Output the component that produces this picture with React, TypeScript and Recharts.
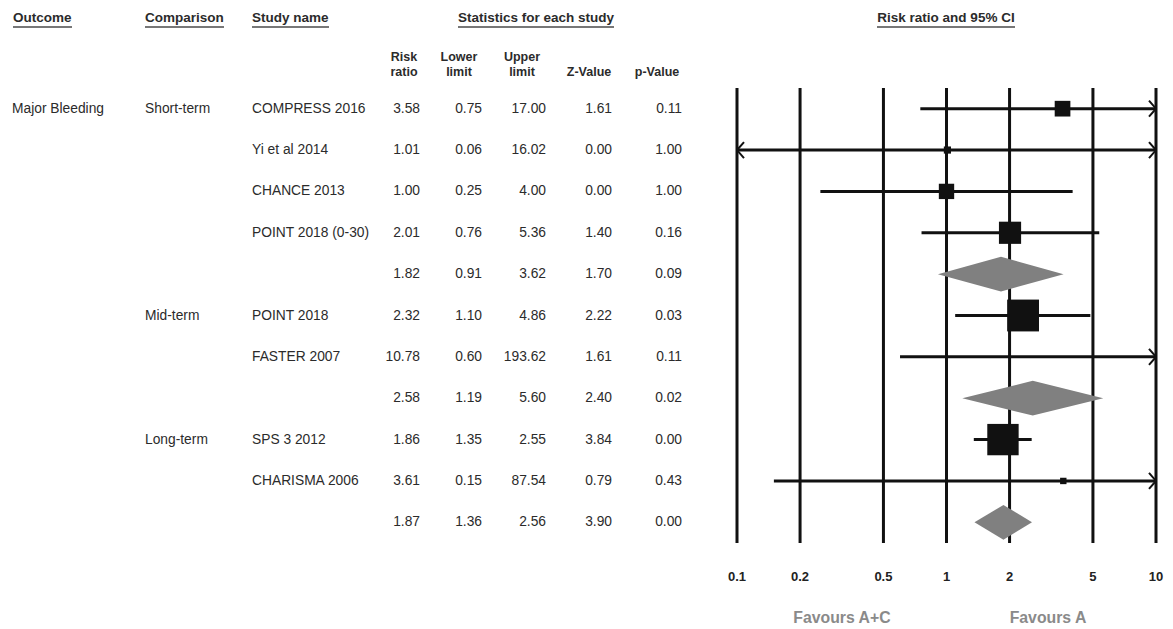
import React from "react";
import { ComposedChart, Scatter, Area, XAxis, YAxis, CartesianGrid } from "recharts";

const outcomes = ["Major Bleeding", "", "", "", "", "", "", "", "", "", ""];
const comparisons = ["Short-term", "", "", "", "", "Mid-term", "", "", "Long-term", "", ""];
const studies = [
  "COMPRESS 2016",
  "Yi et al 2014",
  "CHANCE 2013",
  "POINT 2018 (0-30)",
  "",
  "POINT 2018",
  "FASTER 2007",
  "",
  "SPS 3 2012",
  "CHARISMA 2006",
  "",
];
const riskRatio = [3.58, 1.01, 1.0, 2.01, 1.82, 2.32, 10.78, 2.58, 1.86, 3.61, 1.87];
const lowerLimit = [0.75, 0.06, 0.25, 0.76, 0.91, 1.1, 0.6, 1.19, 1.35, 0.15, 1.36];
const upperLimit = [17.0, 16.02, 4.0, 5.36, 3.62, 4.86, 193.62, 5.6, 2.55, 87.54, 2.56];
const zValue = [1.61, 0.0, 0.0, 1.4, 1.7, 2.22, 1.61, 2.4, 3.84, 0.79, 3.9];
const pValue = [0.11, 1.0, 1.0, 0.16, 0.09, 0.03, 0.11, 0.02, 0.0, 0.43, 0.0];
const isSummary = [false, false, false, false, true, false, false, true, false, false, true];
// relative weight (%) of each study inside its subgroup
const weights = [24, 5, 23, 48, 0, 99, 1, 0, 96, 4, 0];
const ticks = [0.1, 0.2, 0.5, 1, 2, 5, 10];

const W = 1173;
const H = 629;
const PLOT_TOP = 88;
const PLOT_BOTTOM = 543;
const PLOT_LEFT = 737;
const PLOT_RIGHT = 1156;
const ROW_H = (PLOT_BOTTOM - PLOT_TOP) / studies.length;
const X_MIN = ticks[0];
const X_MAX = ticks[ticks.length - 1];
const DIAMOND_HALF = 0.42;
const MAX_BOX = 32;
const FONT = '"Liberation Sans", Arial, sans-serif';
const TEXT = "#2b2b2b";

const rowY = (i: number) => PLOT_TOP + (i + 0.5) * ROW_H;
const fmt = (v: number) => v.toFixed(2);

// CI segments, clipped to the axis range, with arrow flags
const ciSeries = riskRatio
  .map((_, i) => i)
  .filter((i) => !isSummary[i])
  .map((i) => [
    { x: Math.max(lowerLimit[i], X_MIN), y: i, arrow: lowerLimit[i] < X_MIN ? "left" : "" },
    { x: Math.min(upperLimit[i], X_MAX), y: i, arrow: upperLimit[i] > X_MAX ? "right" : "" },
  ]);

const boxData = riskRatio
  .map((rr, i) => ({ x: rr, y: i, w: weights[i] }))
  .filter((d, i) => !isSummary[i] && d.x >= X_MIN && d.x <= X_MAX);

const diamonds = riskRatio
  .map((_, i) => i)
  .filter((i) => isSummary[i])
  .map((i) => [
    { x: lowerLimit[i], band: [i, i] },
    { x: riskRatio[i], band: [i - DIAMOND_HALF, i + DIAMOND_HALF] },
    { x: upperLimit[i], band: [i, i] },
  ]);

const BoxShape = (props: any) => {
  const { cx, cy, payload } = props;
  const s = Math.max(MAX_BOX * Math.sqrt(payload.w / 100), 3);
  return <rect x={cx - s / 2} y={cy - s / 2} width={s} height={s} fill="#111" />;
};

const EndShape = (props: any) => {
  const { cx, cy, payload } = props;
  if (payload.arrow === "right")
    return (
      <path d={`M${cx - 7},${cy - 8} L${cx},${cy} L${cx - 7},${cy + 8}`} stroke="#111" strokeWidth={2} fill="none" />
    );
  if (payload.arrow === "left")
    return (
      <path d={`M${cx + 7},${cy - 8} L${cx},${cy} L${cx + 7},${cy + 8}`} stroke="#111" strokeWidth={2} fill="none" />
    );
  return <g />;
};

const Cell = ({
  x,
  y,
  text,
  align = "left",
  bold = false,
  size = 13.8,
  underline = false,
  color = TEXT,
}: {
  x: number;
  y: number;
  text: string;
  align?: "left" | "right" | "center";
  bold?: boolean;
  size?: number;
  underline?: boolean;
  color?: string;
}) => {
  const boxW = 240;
  const left = align === "left" ? x : align === "right" ? x - boxW : x - boxW / 2;
  return (
    <div
      style={{
        position: "absolute",
        left,
        top: y - 10,
        width: boxW,
        height: 20,
        lineHeight: "20px",
        textAlign: align,
        fontFamily: FONT,
        fontSize: size,
        fontWeight: bold ? "bold" : "normal",
        color,
        whiteSpace: "nowrap",
      }}
    >
      <span
        style={
          underline
            ? { borderBottom: "2px solid #777", paddingBottom: 1 }
            : undefined
        }
      >
        {text}
      </span>
    </div>
  );
};

const COLS = { rr: 420, lo: 482, hi: 546, z: 612, p: 682 };

export default function App() {
  return (
    <div style={{ position: "absolute", left: 0, top: 0, width: W, height: H, background: "#fff" }}>
      <ComposedChart
        width={W}
        height={H}
        margin={{ top: PLOT_TOP, right: W - PLOT_RIGHT, bottom: 0, left: PLOT_LEFT }}
      >
        <CartesianGrid vertical horizontal={false} stroke="#111" strokeWidth={3} />
        <XAxis
          type="number"
          dataKey="x"
          scale="log"
          domain={[X_MIN, X_MAX]}
          ticks={ticks}
          allowDataOverflow
          axisLine={false}
          tickLine={false}
          height={H - PLOT_BOTTOM}
          tickMargin={23}
          tick={{ fontSize: 13, fontWeight: "bold", fill: "#222", fontFamily: FONT }}
          tickFormatter={(v) => String(v)}
        />
        <YAxis type="number" dataKey="y" domain={[-0.5, studies.length - 0.5]} reversed hide />
        {ciSeries.map((d, k) => (
          <Scatter
            key={`ci${k}`}
            data={d}
            line={{ stroke: "#111", strokeWidth: 3 }}
            lineType="joint"
            stroke="#111"
            shape={EndShape}
            isAnimationActive={false}
          />
        ))}
        {diamonds.map((d, k) => (
          <Area
            key={`dm${k}`}
            data={d}
            dataKey="band"
            type="linear"
            stroke="none"
            fill="#808080"
            fillOpacity={1}
            dot={false}
            activeDot={false}
            isAnimationActive={false}
          />
        ))}
        <Scatter data={boxData} shape={BoxShape} isAnimationActive={false} />
      </ComposedChart>

      {/* table */}
      <Cell x={13} y={18} text="Outcome" bold size={13.5} underline />
      <Cell x={145} y={18} text="Comparison" bold size={13.5} underline />
      <Cell x={252} y={18} text="Study name" bold size={13.5} underline />
      <Cell x={536} y={18} text="Statistics for each study" align="center" bold size={13.5} underline />
      <Cell x={946} y={18} text="Risk ratio and 95% CI" align="center" bold size={13.5} underline />

      <Cell x={404} y={57} text="Risk" align="center" bold size={12.5} />
      <Cell x={404} y={72} text="ratio" align="center" bold size={12.5} />
      <Cell x={459} y={57} text="Lower" align="center" bold size={12.5} />
      <Cell x={459} y={72} text="limit" align="center" bold size={12.5} />
      <Cell x={522} y={57} text="Upper" align="center" bold size={12.5} />
      <Cell x={522} y={72} text="limit" align="center" bold size={12.5} />
      <Cell x={589} y={72} text="Z-Value" align="center" bold size={12.5} />
      <Cell x={657} y={72} text="p-Value" align="center" bold size={12.5} />

      {studies.map((s, i) => (
        <React.Fragment key={i}>
          {outcomes[i] && <Cell x={12} y={rowY(i)} text={outcomes[i]} />}
          {comparisons[i] && <Cell x={145} y={rowY(i)} text={comparisons[i]} />}
          {s && <Cell x={252} y={rowY(i)} text={s} />}
          <Cell x={COLS.rr} y={rowY(i)} text={fmt(riskRatio[i])} align="right" />
          <Cell x={COLS.lo} y={rowY(i)} text={fmt(lowerLimit[i])} align="right" />
          <Cell x={COLS.hi} y={rowY(i)} text={fmt(upperLimit[i])} align="right" />
          <Cell x={COLS.z} y={rowY(i)} text={fmt(zValue[i])} align="right" />
          <Cell x={COLS.p} y={rowY(i)} text={fmt(pValue[i])} align="right" />
        </React.Fragment>
      ))}

      <Cell x={842} y={618} text="Favours A+C" align="center" bold size={15.8} color="#8a8a8a" />
      <Cell x={1048} y={618} text="Favours A" align="center" bold size={15.8} color="#8a8a8a" />
    </div>
  );
}
